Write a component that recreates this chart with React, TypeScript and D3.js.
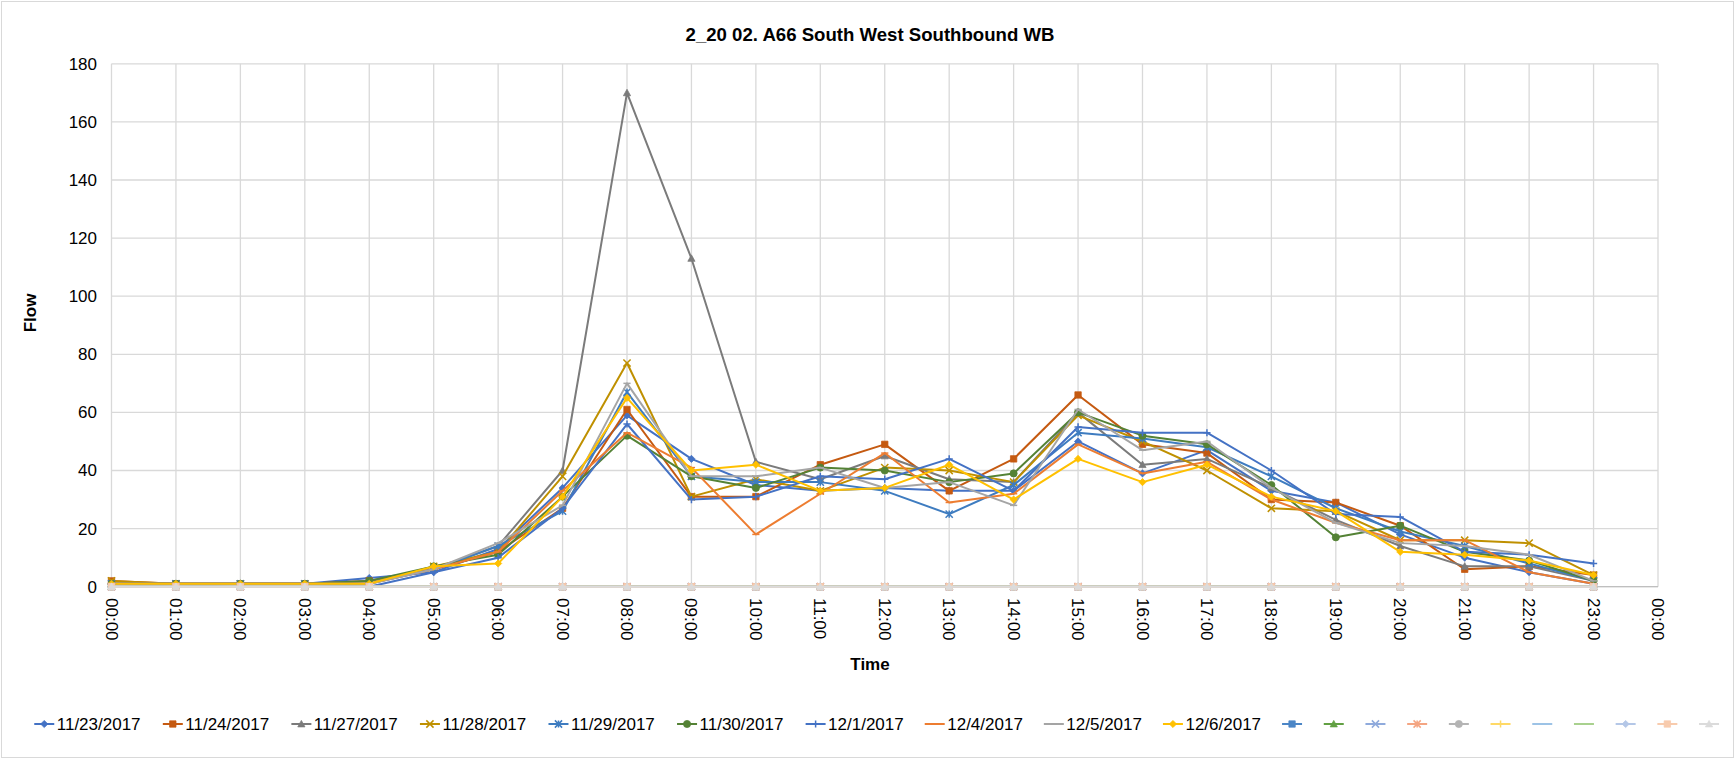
import React from 'react';
import * as d3 from 'd3';

// hourly flow, one array per survey day
const hourLabels = ['00:00', '01:00', '02:00', '03:00', '04:00', '05:00', '06:00', '07:00', '08:00', '09:00', '10:00', '11:00',
  '12:00', '13:00', '14:00', '15:00', '16:00', '17:00', '18:00', '19:00', '20:00', '21:00', '22:00', '23:00', '00:00'];
const yTicks = [0, 20, 40, 60, 80, 100, 120, 140, 160, 180];

const flow1123 = [1, 0, 1, 1, 3, 5, 13, 34, 59, 44, 35, 33, 34, 33, 33, 50, 39, 47, 33, 29, 18, 10, 5, 1];
const flow1124 = [2, 1, 1, 1, 2, 6, 12, 27, 61, 31, 31, 42, 49, 33, 44, 66, 49, 46, 30, 29, 21, 6, 7, 4];
const flow1127 = [1, 1, 1, 1, 2, 6, 14, 40, 170, 113, 43, 37, 45, 37, 36, 60, 42, 44, 34, 23, 14, 7, 7, 2];
const flow1128 = [2, 1, 1, 1, 1, 7, 12, 38, 77, 31, 37, 33, 41, 40, 36, 59, 50, 40, 27, 26, 16, 16, 15, 4];
const flow1129 = [1, 1, 1, 1, 1, 6, 14, 26, 67, 38, 36, 36, 33, 25, 35, 53, 51, 48, 38, 27, 19, 14, 8, 2];
const flow1130 = [1, 1, 1, 1, 2, 7, 11, 31, 52, 38, 34, 41, 40, 36, 39, 60, 52, 49, 35, 17, 21, 12, 9, 2];
const flow1201 = [1, 1, 1, 1, 0, 5, 10, 27, 56, 30, 31, 38, 37, 44, 33, 55, 53, 53, 40, 25, 24, 12, 11, 8];
const flow1204 = [1, 1, 1, 1, 1, 6, 12, 33, 53, 41, 18, 32, 46, 29, 32, 49, 39, 43, 30, 22, 16, 16, 5, 1];
const flow1205 = [1, 1, 1, 1, 1, 6, 15, 28, 70, 38, 38, 41, 34, 36, 28, 61, 47, 50, 34, 22, 15, 14, 11, 2];
const flow1206 = [1, 1, 1, 1, 1, 7, 8, 31, 65, 40, 42, 33, 34, 42, 30, 44, 36, 42, 31, 26, 12, 11, 9, 4];
// the unnamed series in the workbook are all zero
const emptyFlow = [0, 0, 0, 0, 0, 0, 0, 0, 0, 0, 0, 0, 0, 0, 0, 0, 0, 0, 0, 0, 0, 0, 0, 0];

const seriesNames = ['11/23/2017', '11/24/2017', '11/27/2017', '11/28/2017', '11/29/2017', '11/30/2017',
  '12/1/2017', '12/4/2017', '12/5/2017', '12/6/2017', '', '', '', '', '', '', '', '', '', '', ''];
const seriesValues = [flow1123, flow1124, flow1127, flow1128, flow1129, flow1130, flow1201, flow1204, flow1205, flow1206,
  emptyFlow, emptyFlow, emptyFlow, emptyFlow, emptyFlow, emptyFlow, emptyFlow, emptyFlow, emptyFlow, emptyFlow, emptyFlow];
const seriesColors = ['#4472C4', '#C55A11', '#7B7B7B', '#BF9000', '#3E7CC0', '#548235', '#4472C4', '#ED7D31', '#A5A5A5', '#FFC000',
  '#4C86C6', '#62A043', '#8FAADC', '#F4A582', '#B4B4B4', '#FFD966', '#9DC3E6', '#A9D18E', '#B4C7E7', '#F8CBAD', '#DBDBDB'];
const seriesMarkers = ['diamond', 'square', 'triangle', 'x', 'star', 'circle', 'plus', 'dash', 'dash', 'diamond',
  'square', 'triangle', 'x', 'star', 'circle', 'plus', 'dash', 'dash', 'diamond', 'square', 'triangle'];

const W = 1735;
const H = 759;
const FONT = '"Liberation Sans", Arial, sans-serif';

const markerPath = (kind: string, r: number) => {
  switch (kind) {
    case 'diamond': return `M0,${-r}L${r},0L0,${r}L${-r},0Z`;
    case 'square': return `M${-r},${-r}h${2 * r}v${2 * r}h${-2 * r}Z`;
    case 'triangle': return `M0,${-r}L${r},${r * 0.8}L${-r},${r * 0.8}Z`;
    case 'circle': return d3.symbol(d3.symbolCircle, Math.PI * r * r)() as string;
    case 'x': return `M${-r},${-r}L${r},${r}M${r},${-r}L${-r},${r}`;
    case 'star': return `M${-r},${-r}L${r},${r}M${r},${-r}L${-r},${r}M0,${-r}L0,${r}`;
    case 'plus': return `M${-r},0L${r},0M0,${-r}L0,${r}`;
    default: return `M${-r},0L${r},0`;
  }
};
const isFilled = (kind: string) => ['diamond', 'square', 'triangle', 'circle'].includes(kind);

const Marker = ({ kind, color, x, y, r }: { kind: string; color: string; x: number; y: number; r: number }) => (
  <path
    transform={`translate(${x},${y})`}
    d={markerPath(kind, r)}
    fill={isFilled(kind) ? color : 'none'}
    stroke={color}
    strokeWidth={isFilled(kind) ? 0.75 : 1.5}
  />
);

const App: React.FC = () => {
  const x = d3.scaleLinear().domain([0, 24]).range([111.5, 1658]);
  const y = d3.scaleLinear().domain([0, 180]).range([586.7, 63.8]);
  const line = d3.line<number>().x((_, i) => x(i)).y(d => y(d));

  // legend layout, items centred under the chart
  const charW = (s: string) => s.split('').reduce((a, c) => a + (c === '/' ? 4.73 : 9.45), 0);
  const itemW = seriesNames.map(n => (n ? 20 + 2.5 + charW(n) + 21 : 41.7));
  const totalW = d3.sum(itemW) - 21;
  let lx = 877 - totalW / 2;
  const legendItems = seriesNames.map((n, i) => {
    const item = { x: lx, name: n, i };
    lx += itemW[i];
    return item;
  });

  return (
    <svg width={W} height={H} style={{ position: 'absolute', left: 0, top: 0, background: '#fff' }} fontFamily={FONT}>
      <rect x={1.5} y={1.5} width={W - 3} height={H - 3} fill="#fff" stroke="#D9D9D9" />

      {/* gridlines */}
      {yTicks.map(t => (
        <line key={'gy' + t} x1={x(0)} x2={x(24)} y1={y(t)} y2={y(t)} stroke="#D9D9D9" strokeWidth={1.3} />
      ))}
      {hourLabels.map((_, i) => (
        <line key={'gx' + i} x1={x(i)} x2={x(i)} y1={y(180)} y2={y(0)} stroke="#D9D9D9" strokeWidth={1.3} />
      ))}
      <line x1={x(0)} x2={x(24)} y1={y(0)} y2={y(0)} stroke="#BFBFBF" strokeWidth={1.3} />

      {/* y axis */}
      {yTicks.map(t => (
        <text key={'ty' + t} x={97} y={y(t)} dy="0.35em" textAnchor="end" fontSize={17} fill="#000">{t}</text>
      ))}
      <text transform={`translate(36,313) rotate(-90)`} textAnchor="middle" fontSize={17} fontWeight="bold">Flow</text>

      {/* x axis */}
      {hourLabels.map((lab, i) => (
        <text key={'tx' + i} transform={`translate(${x(i)},598) rotate(90)`} dy="0.35em" fontSize={17} fill="#000">{lab}</text>
      ))}
      <text x={870} y={670} textAnchor="middle" fontSize={17} fontWeight="bold">Time</text>

      <text x={870} y={41} textAnchor="middle" fontSize={18.6} fontWeight="bold">2_20 02. A66 South West Southbound WB</text>

      {/* series */}
      {seriesValues.map((vals, s) => (
        <g key={'s' + s}>
          <path d={line(vals) as string} fill="none" stroke={seriesColors[s]} strokeWidth={2} strokeLinejoin="round" />
          {vals.map((v, i) => (
            <Marker key={i} kind={seriesMarkers[s]} color={seriesColors[s]} x={x(i)} y={y(v)} r={seriesMarkers[s] === 'square' ? 3.2 : 3.6} />
          ))}
        </g>
      ))}

      {/* legend */}
      {legendItems.map(it => (
        <g key={'lg' + it.i}>
          <line x1={it.x} x2={it.x + 20} y1={724} y2={724} stroke={seriesColors[it.i]} strokeWidth={2} />
          <Marker kind={seriesMarkers[it.i]} color={seriesColors[it.i]} x={it.x + 10} y={724} r={seriesMarkers[it.i] === 'square' ? 3.2 : 3.6} />
          {it.name && (
            <text x={it.x + 22.5} y={724} dy="0.35em" fontSize={17} fill="#000">{it.name}</text>
          )}
        </g>
      ))}
    </svg>
  );
};

export default App;
